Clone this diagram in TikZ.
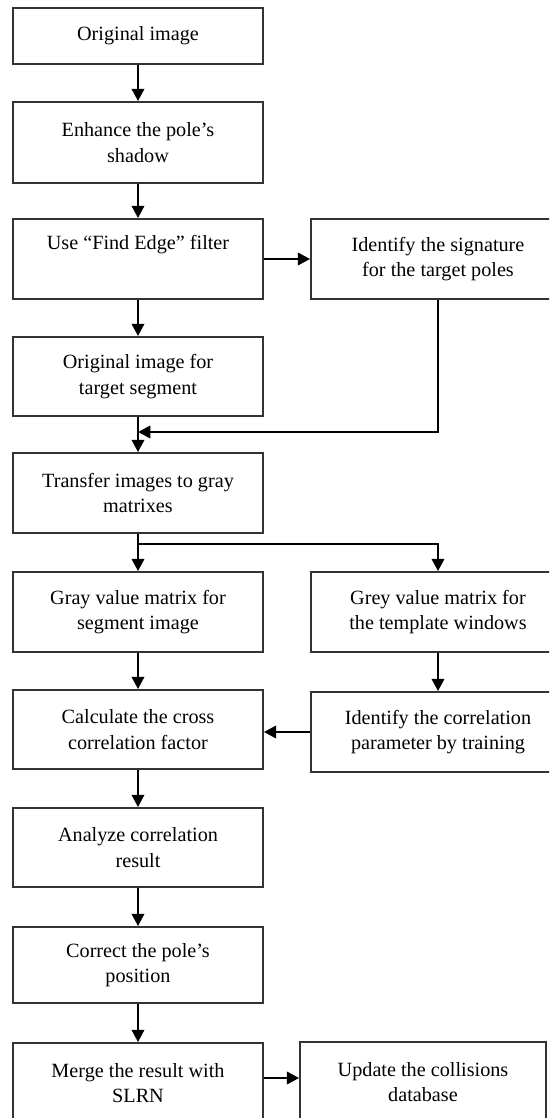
\documentclass[tikz,border=0pt]{standalone}
\usepackage{fontspec}
\setmainfont{Liberation Serif}
\usetikzlibrary{arrows.meta}

\begin{document}
\begin{tikzpicture}[x=0.02cm, y=-0.02cm,
  box/.style={draw=black!80, line width=1pt, align=center, inner sep=2pt,
    font=\fontsize{11.5}{14.5}\selectfont},
  lbox/.style={box, minimum width=5cm, minimum height=1.6cm},
  rbox/.style={box, minimum width=5.08cm, minimum height=1.6cm},
  arr/.style={line width=1.5pt, -{Triangle[length=7pt,width=7pt]}},
  line/.style={line width=1.5pt}]
  \useasboundingbox (0,0) rectangle (549,1118);
  \clip (0,0) rectangle (549,1118);
  \node[lbox, minimum height=1.12cm] (orig) at (138,36) {Original image};
  \node[lbox, minimum height=1.62cm] (enh) at (138,142.5) {Enhance the pole’s\\shadow};
  \node[lbox] (edge) at (138,259) {Use “Find Edge” filter\\\strut};
  \node[rbox] (sig) at (438,259) {Identify the signature\\for the target poles};
  \node[lbox, minimum height=1.58cm] (seg) at (138,376.5) {Original image for\\target segment};
  \node[lbox] (gray) at (138,493) {Transfer images to gray\\matrixes};
  \node[lbox] (gseg) at (138,612) {Gray value matrix for\\segment image};
  \node[rbox] (gtpl) at (438,612) {Grey value matrix for\\the template windows};
  \node[lbox, minimum height=1.58cm] (calc) at (138,729.5) {Calculate the cross\\correlation factor};
  \node[rbox] (train) at (438,732) {Identify the correlation\\parameter by training};
  \node[lbox, minimum height=1.58cm] (anal) at (138,847.5) {Analyze correlation\\result};
  \node[lbox, minimum height=1.52cm] (corr) at (138,965) {Correct the pole’s\\position};
  \node[lbox] (merge) at (138,1083) {Merge the result with\\SLRN};
  \node[box, minimum width=4.92cm, minimum height=1.6cm] (upd) at (423,1082) {Update the collisions\\database};
  \coordinate (join) at (138,432);
  \coordinate (split) at (138,544);
  \coordinate (mout) at ([yshift=0.1cm]merge.east);
  \draw[arr] (orig) -- (enh);
  \draw[arr] (enh) -- (edge);
  \draw[arr] (edge.east) -- (sig.west |- edge.east);
  \draw[arr] (edge) -- (seg);
  \draw[arr] (sig.south) |- (join);
  \draw[arr] (seg) -- (gray);
  \draw[line] (gray.south) -- (split);
  \draw[arr] (split) -- (gseg);
  \draw[arr] (split) -| (gtpl.north);
  \draw[arr] (gseg) -- (calc);
  \draw[arr] (gtpl) -- (train);
  \draw[arr] (train.west) -- (calc.east |- train.west);
  \draw[arr] (calc) -- (anal);
  \draw[arr] (anal) -- (corr);
  \draw[arr] (corr) -- (merge);
  \draw[arr] (mout) -- (mout -| upd.west);
\end{tikzpicture}
\end{document}
